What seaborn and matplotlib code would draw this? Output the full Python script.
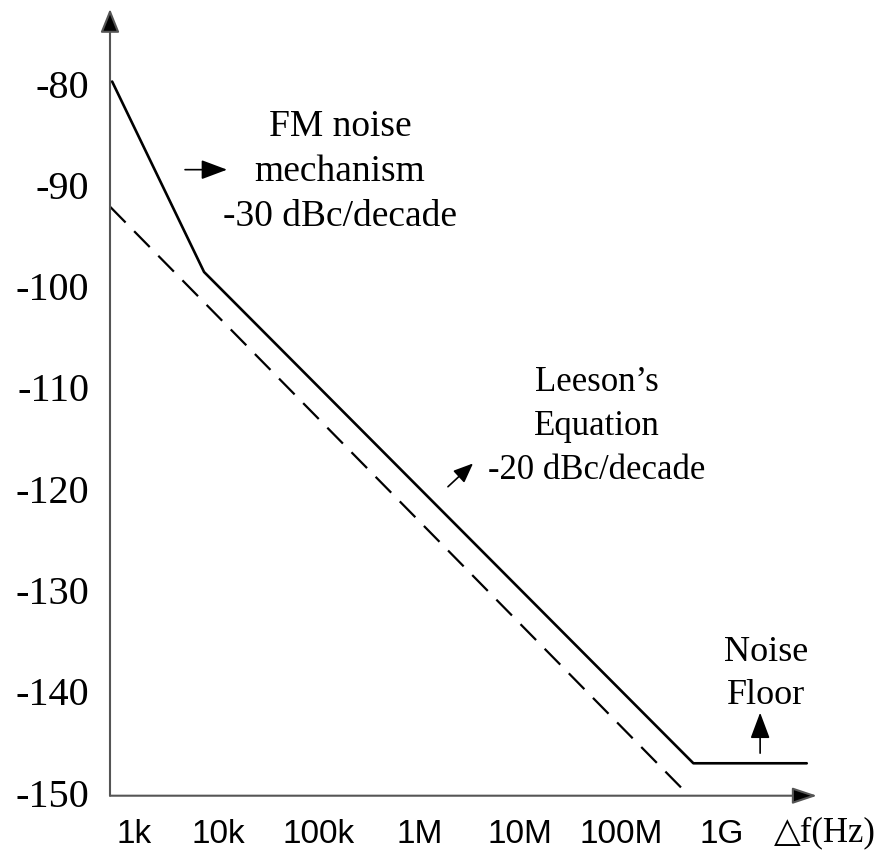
import numpy as np
import pandas as pd
import matplotlib
matplotlib.use("Agg")
import matplotlib.pyplot as plt
import matplotlib.transforms as mtransforms
import seaborn as sns

# ---- data ----
solid_freq = [1.05e3, 8.57e3, 6.12e8, 8.15e9]
solid_db = [-79.5, -98.3, -146.8, -146.8]
dashed_freq = [1.0e3, 5.55e8]
dashed_db = [-91.85, -150.0]
x_ticks = [1e3, 1e4, 1e5, 1e6, 1e7, 1e8, 1e9]
x_labels = ["1k", "10k", "100k", "1M", "10M", "100M", "1G"]
y_ticks = [-80, -90, -100, -110, -120, -130, -140, -150]
y_labels = ["-80", "-90", "-100", "-110", "-120", "-130", "-140", "-150"]

sns.set_style("white")
plt.rcParams["font.family"] = ["Liberation Serif", "DejaVu Sans"]
plt.rcParams["text.color"] = "black"
plt.rcParams["xtick.color"] = "black"
plt.rcParams["ytick.color"] = "black"
plt.rcParams["xtick.labelcolor"] = "black"
plt.rcParams["ytick.labelcolor"] = "black"

W, H = 881, 852
fig = plt.figure(figsize=(W / 100, H / 100), dpi=100)
ax = fig.add_axes([110 / W, (H - 795.7) / H, (817 - 110) / W, (795.7 - 9) / H])

solid = pd.DataFrame({"f": solid_freq, "db": solid_db})
dashed = pd.DataFrame({"f": dashed_freq, "db": dashed_db})
sns.lineplot(data=solid, x="f", y="db", ax=ax, color="black", lw=1.9,
             sort=False, estimator=None, clip_on=False)
sns.lineplot(data=dashed, x="f", y="db", ax=ax, color="black", lw=1.6,
             sort=False, estimator=None, dashes=False, clip_on=False)
ax.lines[1].set_dashes((10, 5.5))

ax.set_xscale("log")
ax.set_xlim(1e3, 1.03e10)
ax.set_ylim(-150, -72.34)
ax.set_xlabel("")
ax.set_ylabel("")

for s in ax.spines.values():
    s.set_visible(False)

axis_col = "#555555"
ax.annotate("", xy=(0, 1), xytext=(0, 0), xycoords="axes fraction",
            arrowprops=dict(arrowstyle="-|>,head_length=0.72,head_width=0.29",
                            mutation_scale=20, color="black", lw=1.5,
                            shrinkA=0, shrinkB=0, ec=axis_col, fc="black"))
ax.annotate("", xy=(1, 0), xytext=(0, 0), xycoords="axes fraction",
            arrowprops=dict(arrowstyle="-|>,head_length=0.75,head_width=0.25",
                            mutation_scale=20, color="black", lw=1.5,
                            shrinkA=0, shrinkB=0, ec=axis_col, fc="black"))

ax.set_xticks(x_ticks)
ax.set_xticklabels(x_labels, family="Liberation Sans", fontsize=24, color="black")
ax.xaxis.set_minor_locator(matplotlib.ticker.NullLocator())
ax.set_yticks(y_ticks)
ax.set_yticklabels(y_labels, fontsize=29, color="black")
ax.tick_params(axis="x", direction="in", length=7, width=1, color="black", pad=17)
ax.tick_params(axis="y", direction="in", length=7, width=1, color="black", pad=15)

for i, t in enumerate(ax.xaxis.get_major_ticks()):
    if i == 0:
        t.tick1line.set_visible(False)
for i, t in enumerate(ax.yaxis.get_major_ticks()):
    if y_ticks[i] in (-80, -90, -150):
        t.tick1line.set_visible(False)

for i, lab in enumerate(ax.get_xticklabels()):
    dx = 0.24 if i == 0 else 0.07
    lab.set_transform(lab.get_transform() + mtransforms.ScaledTranslation(dx, 0, fig.dpi_scale_trans))
for lab in ax.get_yticklabels():
    lab.set_transform(lab.get_transform() + mtransforms.ScaledTranslation(0, 0.03, fig.dpi_scale_trans))

# annotations
ax.text(1.91e5, -88.4, "FM noise\nmechanism\n-30 dBc/decade", ha="center", va="center",
        fontsize=27, linespacing=1.38, color="black")
ax.annotate("", xy=(1.45e4, -88.2), xytext=(5.55e3, -88.2),
            arrowprops=dict(arrowstyle="-|>,head_length=0.8,head_width=0.3",
                            mutation_scale=20, color="black", lw=1.2,
                            shrinkA=0, shrinkB=0))
ax.text(6.78e7, -113.6, "Leeson’s\nEquation\n-20 dBc/decade", ha="center", va="center",
        fontsize=25, linespacing=1.44, color="black")
ax.annotate("", xy=(3.99e6, -117.2), xytext=(2.25e6, -119.5),
            arrowprops=dict(arrowstyle="-|>,head_length=0.6,head_width=0.25",
                            mutation_scale=20, color="black", lw=1.2,
                            shrinkA=0, shrinkB=0))
ax.text(3.22e9, -138.0, "Noise\nFloor", ha="center", va="center",
        fontsize=26, linespacing=1.4, color="black")
ax.annotate("", xy=(2.81e9, -141.8), xytext=(2.81e9, -145.8),
            arrowprops=dict(arrowstyle="-|>,head_length=0.8,head_width=0.3",
                            mutation_scale=20, color="black", lw=1.2,
                            shrinkA=0, shrinkB=0))
ax.text(1.24e10, -153.7, "△f(Hz)", ha="center", va="center", fontsize=25,
        family=["Liberation Serif", "DejaVu Sans"], color="black")

fig.savefig("out.png", dpi=100)
